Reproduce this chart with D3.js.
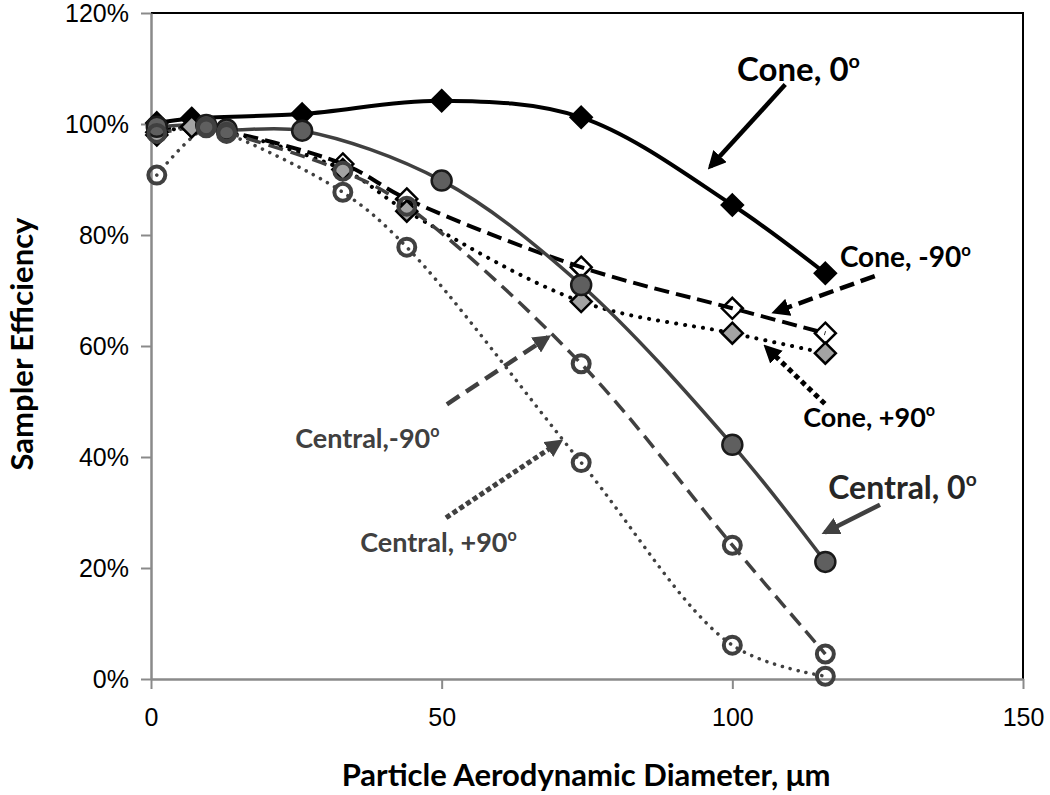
<!DOCTYPE html>
<html>
<head>
<meta charset="utf-8">
<script src="https://cdn.jsdelivr.net/npm/d3@7"></script>
<style>
  body { margin: 0; background: #fff; }
  svg { font-family: Lato, "Open Sans", sans-serif; }
</style>
</head>
<body>
<div id="chart-container"></div>
<script>
// particle diameter (um) and efficiency (fraction)
const coneX = [1, 7, 26, 50, 74, 100, 116]
const coneSideX = [1, 7, 33, 44, 74, 100, 116]
const central0X = [1, 9.5, 13, 26, 50, 74, 100, 116]
const centralSideX = [1, 9.5, 13, 33, 44, 74, 100, 116]

const cone0 = [1.002, 1.01, 1.018, 1.042, 1.012, 0.854, 0.731]
const coneMinus90 = [0.985, 0.995, 0.928, 0.865, 0.742, 0.668, 0.623]
const conePlus90 = [0.98, 0.995, 0.918, 0.843, 0.68, 0.623, 0.587]
const central0 = [0.995, 0.998, 0.99, 0.988, 0.898, 0.71, 0.422, 0.211]
const centralMinus90 = [0.983, 0.995, 0.985, 0.915, 0.852, 0.568, 0.241, 0.045]
const centralPlus90 = [0.908, 0.993, 0.983, 0.877, 0.778, 0.39, 0.061, 0.005]

const xTicks = [0, 50, 100, 150]
const yTicks = [0, 0.2, 0.4, 0.6, 0.8, 1.0, 1.2]

const series = [
    {name: "Cone, 0", xs: coneX, ys: cone0, color: "#000", width: 4, dash: null, marker: "diamond", fill: "#000", mstroke: "#000"},
    {name: "Cone, -90", xs: coneSideX, ys: coneMinus90, color: "#000", width: 4, dash: "15 7", marker: "diamond", fill: "none", mstroke: "#000"},
    {name: "Cone, +90", xs: coneSideX, ys: conePlus90, color: "#000", width: 4, dash: "0.1 9", marker: "diamond", fill: "#a3a3a3", mstroke: "#000"},
    {name: "Central, 0", xs: central0X, ys: central0, color: "#404040", width: 3.5, dash: null, marker: "circle", fill: "#5f5f5f", mstroke: "#1a1a1a"},
    {name: "Central, -90", xs: centralSideX, ys: centralMinus90, color: "#404040", width: 3.5, dash: "15 8", marker: "ring", fill: "none", mstroke: "#404040"},
    {name: "Central, +90", xs: centralSideX, ys: centralPlus90, color: "#404040", width: 3.5, dash: "0.1 8", marker: "ring", fill: "none", mstroke: "#404040"}
]

// callout labels and arrows, positioned in data units
const notes = [
    {label: "Cone, 0", tx: 100.8, ty: 1.077, size: 33, color: "#000", from: [109.1, 1.071], to: [96.2, 0.923], dash: null},
    {label: "Cone, -90", tx: 118.5, ty: 0.742, size: 28, color: "#000", from: [124.5, 0.726], to: [107.3, 0.661], dash: "15 7"},
    {label: "Cone, +90", tx: 112.2, ty: 0.454, size: 27, color: "#000", from: [115.6, 0.499], to: [105.8, 0.598], dash: "0.1 9"},
    {label: "Central, 0", tx: 116.5, ty: 0.324, size: 32, color: "#262626", from: [125.4, 0.314], to: [115.9, 0.264], dash: null},
    {label: "Central,-90", tx: 24.8, ty: 0.416, size: 27, color: "#404040", from: [50.9, 0.495], to: [68.3, 0.616], dash: "15 8"},
    {label: "Central, +90", tx: 36.0, ty: 0.229, size: 27, color: "#404040", from: [51.1, 0.293], to: [70.4, 0.428], dash: "0.1 8"}
]

const margin = {top: 13, right: 27, bottom: 116, left: 151}
const width = 1050 - margin.left - margin.right
const height = 795 - margin.top - margin.bottom

const x = d3.scaleLinear().domain([0, 150]).range([0, width])
const y = d3.scaleLinear().domain([0, 1.2]).range([height, 0])

const svg = d3.select("#chart-container")
    .append("svg")
    .attr("width", width + margin.left + margin.right)
    .attr("height", height + margin.top + margin.bottom)

const defs = svg.append("defs")
function arrowHead(id, color) {
    defs.append("marker")
        .attr("id", id)
        .attr("viewBox", "0 0 10 10")
        .attr("refX", 8)
        .attr("refY", 5)
        .attr("markerUnits", "userSpaceOnUse")
        .attr("markerWidth", 18)
        .attr("markerHeight", 18)
        .attr("orient", "auto")
        .append("path")
        .attr("d", "M0,0L10,5L0,10Z")
        .attr("fill", color)
}
arrowHead("head-black", "#000")
arrowHead("head-gray", "#404040")

const g = svg.append("g")
    .attr("transform", `translate(${margin.left},${margin.top})`)

// plot border top + right
g.append("path")
    .attr("d", `M0,0H${width}V${height}`)
    .attr("fill", "none")
    .attr("stroke", "#000")
    .attr("stroke-width", 2)

g.append("g")
    .attr("transform", `translate(0,${height})`)
    .call(d3.axisBottom(x).tickValues(xTicks).tickSize(10).tickPadding(19).tickSizeOuter(0))
    .call(ax => ax.select(".domain").attr("stroke", "#8a8a8a").attr("stroke-width", 2.5))
    .call(ax => ax.selectAll(".tick line").attr("stroke", "#8a8a8a").attr("stroke-width", 2))
    .selectAll(".tick text")
    .attr("font-size", 25)
    .attr("fill", "#000")

g.append("g")
    .call(d3.axisLeft(y).tickValues(yTicks).tickFormat(d3.format(".0%")).tickSize(10).tickPadding(12).tickSizeOuter(0))
    .call(ax => ax.select(".domain").attr("stroke", "#8a8a8a").attr("stroke-width", 2.5))
    .call(ax => ax.selectAll(".tick line").attr("stroke", "#8a8a8a").attr("stroke-width", 2))
    .selectAll(".tick text")
    .attr("font-size", 25)
    .attr("fill", "#000")

// axis titles
svg.append("text")
    .attr("x", 586)
    .attr("y", 786)
    .attr("text-anchor", "middle")
    .attr("font-size", 31)
    .attr("font-weight", "bold")
    .text("Particle Aerodynamic Diameter, μm")

svg.append("text")
    .attr("transform", "translate(33,344) rotate(-90)")
    .attr("text-anchor", "middle")
    .attr("font-size", 31)
    .attr("font-weight", "bold")
    .text("Sampler Efficiency")

const line = d3.line()
    .x(d => x(d[0]))
    .y(d => y(d[1]))
    .curve(d3.curveCatmullRom.alpha(0.5))

series.forEach(s => {
    const pts = s.xs.map((v, i) => [v, s.ys[i]])
    g.append("path")
        .datum(pts)
        .attr("fill", "none")
        .attr("stroke", s.color)
        .attr("stroke-width", s.width)
        .attr("stroke-dasharray", s.dash)
        .attr("stroke-linecap", s.dash && s.dash.startsWith("0.1") ? "round" : "butt")
        .attr("d", line)
})

// markers on top of all lines
const diamond = "M0,-10.5L10.5,0L0,10.5L-10.5,0Z"
series.forEach(s => {
    const pts = s.xs.map((v, i) => [v, s.ys[i]])
    const m = g.append("g").selectAll("path")
        .data(pts)
        .join("path")
        .attr("transform", d => `translate(${x(d[0])},${y(d[1])})`)
        .attr("fill", s.fill)
        .attr("stroke", s.mstroke)
    if (s.marker == "diamond") {
        m.attr("d", diamond).attr("stroke-width", 2.5)
    } else if (s.marker == "circle") {
        m.attr("d", d3.symbol(d3.symbolCircle, Math.PI * 100)).attr("stroke-width", 2.5)
    } else {
        m.attr("d", d3.symbol(d3.symbolCircle, Math.PI * 72)).attr("stroke-width", 4)
    }
})

// callouts
notes.forEach(n => {
    const black = n.color == "#000"
    g.append("line")
        .attr("x1", x(n.from[0]))
        .attr("y1", y(n.from[1]))
        .attr("x2", x(n.to[0]))
        .attr("y2", y(n.to[1]))
        .attr("stroke", black ? "#000" : "#404040")
        .attr("stroke-width", n.dash && n.dash.startsWith("0.1") ? 5 : 4.5)
        .attr("stroke-dasharray", n.dash)
        .attr("stroke-linecap", n.dash && n.dash.startsWith("0.1") ? "square" : "butt")
        .attr("marker-end", black ? "url(#head-black)" : "url(#head-gray)")

    const t = g.append("text")
        .attr("x", x(n.tx))
        .attr("y", y(n.ty))
        .attr("font-size", n.size)
        .attr("font-weight", "bold")
        .attr("fill", n.color)
        .text(n.label)
    t.append("tspan")
        .attr("dy", -n.size * 0.4)
        .attr("font-size", n.size * 0.6)
        .text("o")
})
</script>
</body>
</html>
